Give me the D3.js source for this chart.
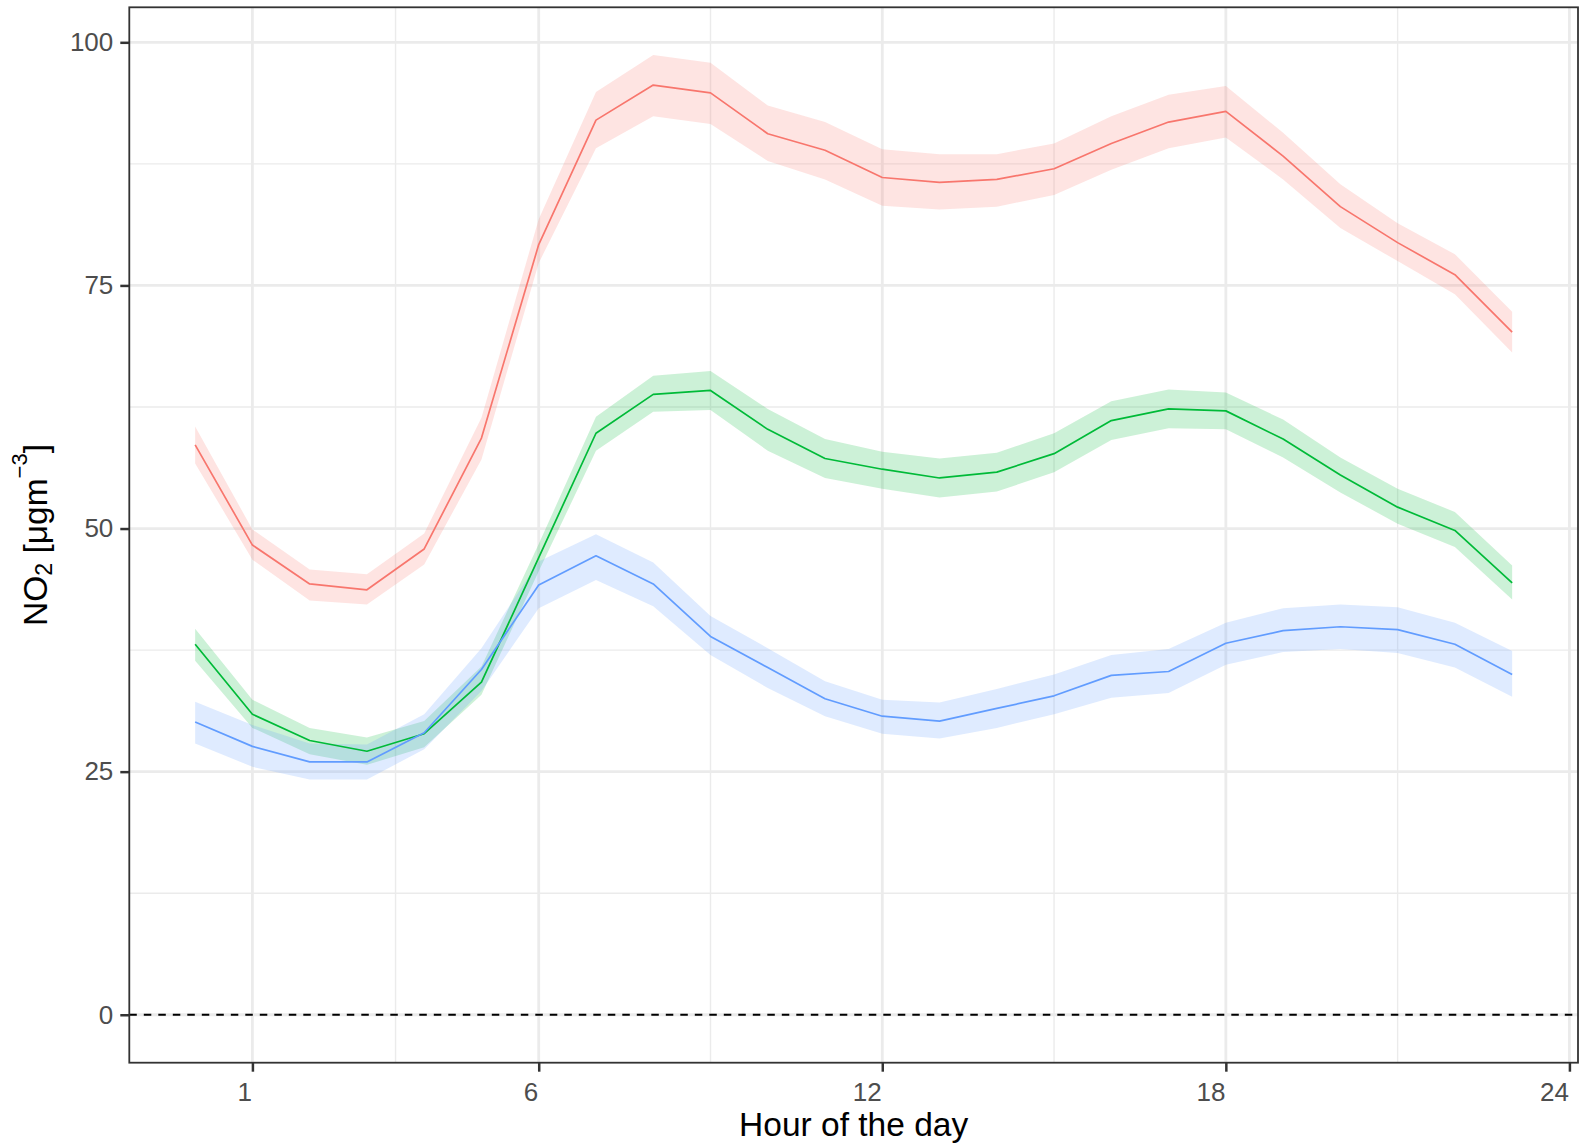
<!DOCTYPE html>
<html>
<head>
<meta charset="utf-8">
<script src="https://cdn.jsdelivr.net/npm/d3@7"></script>
<style>
  html, body { margin: 0; padding: 0; background: #ffffff; }
  svg { display: block; font-family: "Liberation Sans", Arial, Helvetica, sans-serif; }
</style>
</head>
<body>
<svg id="chart" width="1587" height="1148"></svg>
<script>
// ---------- data ----------
const hours = [0,1,2,3,4,5,6,7,8,9,10,11,12,13,14,15,16,17,18,19,20,21,22,23];

const redMean  = [58.6,48.3,44.3,43.7,47.9,59.3,79.2,92.0,95.6,94.8,90.6,88.9,86.1,85.6,85.9,87.0,89.6,91.8,92.9,88.3,83.1,79.4,76.1,70.2];
const redLower = [56.7,46.8,42.6,42.2,46.3,57.1,77.3,89.1,92.4,91.6,87.8,85.9,83.2,82.8,83.1,84.3,86.9,89.1,90.2,85.9,80.9,77.5,74.1,68.1];
const redUpper = [60.5,49.9,45.8,45.3,49.5,61.4,81.8,94.9,98.7,97.9,93.5,91.8,89.0,88.5,88.5,89.6,92.4,94.6,95.5,90.7,85.4,81.4,78.2,72.3];

const greenMean  = [38.1,30.9,28.2,27.1,28.9,34.2,47.0,59.8,63.8,64.2,60.2,57.2,56.1,55.2,55.8,57.7,61.1,62.3,62.1,59.2,55.5,52.2,49.8,44.4];
const greenLower = [36.4,29.5,26.8,25.7,27.5,32.9,45.6,58.0,62.0,62.2,58.0,55.2,54.1,53.2,53.8,55.8,59.1,60.3,60.2,57.3,53.7,50.5,48.1,42.7];
const greenUpper = [39.7,32.4,29.5,28.5,30.2,35.8,48.4,61.5,65.7,66.2,62.3,59.2,57.9,57.2,57.8,59.8,63.1,64.3,64.0,61.2,57.3,54.1,51.7,46.2];

const blueMean  = [30.1,27.6,26.0,26.0,29.0,35.5,44.2,47.2,44.3,38.9,35.7,32.5,30.7,30.2,31.5,32.8,34.9,35.3,38.2,39.5,39.9,39.6,38.1,35.0];
const blueLower = [27.9,25.5,24.2,24.2,27.3,33.3,41.8,44.7,42.0,37.0,33.6,30.7,28.9,28.4,29.5,30.9,32.6,33.1,36.0,37.3,37.6,37.2,35.7,32.7];
const blueUpper = [32.2,29.8,27.9,27.8,30.9,37.7,46.6,49.4,46.5,41.0,37.7,34.3,32.4,32.1,33.5,35.0,37.0,37.6,40.3,41.8,42.2,41.9,40.3,37.4];

const seriesColors = ["#F8766D", "#00BA38", "#619CFF"];

const xTicks = [1, 6, 12, 18, 24];
const xMinor = [3.5, 9, 15, 21];
const yTicks = [0, 25, 50, 75, 100];
const yMinor = [12.5, 37.5, 62.5, 87.5];

const xTitle = "Hour of the day";

// ---------- build ----------
const series = [
  { mean: redMean,   lower: redLower,   upper: redUpper,   color: seriesColors[0] },
  { mean: greenMean, lower: greenLower, upper: greenUpper, color: seriesColors[1] },
  { mean: blueMean,  lower: blueLower,  upper: blueUpper,  color: seriesColors[2] }
];

const panel = { left: 129.3, right: 1578, top: 7.3, bottom: 1062.7 };

const x = d3.scaleLinear().domain([-1.15, 24.15]).range([panel.left, panel.right]);
const y = d3.scaleLinear().domain([-4.93, 103.6]).range([panel.bottom, panel.top]);

const svg = d3.select("#chart");

svg.append("defs").append("clipPath").attr("id", "clip")
  .append("rect")
  .attr("x", panel.left).attr("y", panel.top)
  .attr("width", panel.right - panel.left).attr("height", panel.bottom - panel.top);

svg.append("rect").attr("x", 0).attr("y", 0).attr("width", 1587).attr("height", 1148).attr("fill", "#ffffff");

const grid = svg.append("g").attr("clip-path", "url(#clip)");
// minor grid
grid.selectAll(".ymin").data(yMinor).enter().append("line")
  .attr("x1", panel.left).attr("x2", panel.right)
  .attr("y1", d => y(d)).attr("y2", d => y(d))
  .attr("stroke", "#EBEBEB").attr("stroke-width", 1.4);
grid.selectAll(".xmin").data(xMinor).enter().append("line")
  .attr("y1", panel.top).attr("y2", panel.bottom)
  .attr("x1", d => x(d)).attr("x2", d => x(d))
  .attr("stroke", "#EBEBEB").attr("stroke-width", 1.4);
// major grid
grid.selectAll(".ymaj").data(yTicks).enter().append("line")
  .attr("x1", panel.left).attr("x2", panel.right)
  .attr("y1", d => y(d)).attr("y2", d => y(d))
  .attr("stroke", "#EBEBEB").attr("stroke-width", 2.8);
grid.selectAll(".xmaj").data(xTicks).enter().append("line")
  .attr("y1", panel.top).attr("y2", panel.bottom)
  .attr("x1", d => x(d)).attr("x2", d => x(d))
  .attr("stroke", "#EBEBEB").attr("stroke-width", 2.8);

// dashed zero line
grid.append("line")
  .attr("x1", panel.left).attr("x2", panel.right)
  .attr("y1", y(0)).attr("y2", y(0))
  .attr("stroke", "#000000").attr("stroke-width", 2.2)
  .attr("stroke-dasharray", "7.5,7");

const plot = svg.append("g").attr("clip-path", "url(#clip)");

const area = d3.area()
  .x((d, i) => x(hours[i]))
  .y0(d => y(d[0]))
  .y1(d => y(d[1]));

const line = d3.line()
  .x((d, i) => x(hours[i]))
  .y(d => y(d));

series.forEach(s => {
  const band = s.lower.map((v, i) => [v, s.upper[i]]);
  plot.append("path").datum(band)
    .attr("d", area)
    .attr("fill", s.color).attr("fill-opacity", 0.2).attr("stroke", "none");
});
series.forEach(s => {
  plot.append("path").datum(s.mean)
    .attr("d", line)
    .attr("fill", "none").attr("stroke", s.color).attr("stroke-width", 1.7)
    .attr("stroke-linejoin", "round");
});

// panel border
svg.append("rect")
  .attr("x", panel.left).attr("y", panel.top)
  .attr("width", panel.right - panel.left).attr("height", panel.bottom - panel.top)
  .attr("fill", "none").attr("stroke", "#333333").attr("stroke-width", 1.8);

// axes
const yAxis = svg.append("g")
  .attr("transform", `translate(${panel.left},0)`)
  .call(d3.axisLeft(y).tickValues(yTicks).tickSize(9).tickPadding(7).tickFormat(d3.format("d")));
const xAxis = svg.append("g")
  .attr("transform", `translate(0,${panel.bottom})`)
  .call(d3.axisBottom(x).tickValues(xTicks).tickSize(9).tickPadding(11).tickFormat(d3.format("d")));

[yAxis, xAxis].forEach(a => {
  a.select(".domain").remove();
  a.selectAll(".tick line").attr("stroke", "#333333").attr("stroke-width", 2.5);
  a.selectAll(".tick text")
    .attr("fill", "#4D4D4D")
    .style("font-size", "26px")
    .style("font-family", "'Liberation Sans', Arial, sans-serif");
});
xAxis.selectAll(".tick text").attr("text-anchor", "end").attr("x", -1);

// titles
svg.append("text")
  .attr("x", (panel.left + panel.right) / 2)
  .attr("y", 1136)
  .attr("text-anchor", "middle")
  .attr("fill", "#000000")
  .style("font-size", "33.5px")
  .text(xTitle);

const yt = svg.append("text")
  .attr("transform", `translate(47,${(panel.top + panel.bottom) / 2}) rotate(-90)`)
  .attr("text-anchor", "middle")
  .attr("fill", "#000000")
  .style("font-size", "33.5px");
yt.append("tspan").text("NO");
yt.append("tspan").attr("dy", 5).style("font-size", "23px").text("2");
yt.append("tspan").attr("dy", -5).text("\u00A0[μgm");
yt.append("tspan").attr("dy", -20).style("font-size", "22px").text("−3");
yt.append("tspan").attr("dy", 20).text("]");
</script>
</body>
</html>
